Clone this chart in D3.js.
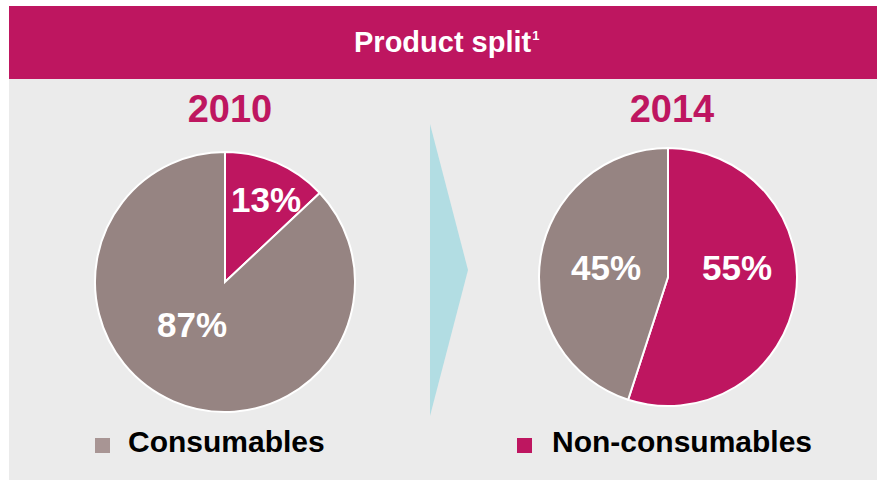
<!DOCTYPE html>
<html>
<head>
<meta charset="utf-8">
<script src="https://cdn.jsdelivr.net/npm/d3@7"></script>
<style>
  body { margin: 0; background: #fff; }
  svg { display: block; font-family: "Liberation Sans", Arial, sans-serif; }
</style>
</head>
<body>
<script>
// chart data
var years = ['2010', '2014'];
var categories = ['Non-consumables', 'Consumables'];
var values2010 = [13, 87];
var values2014 = [55, 45];
var legendLabels = ['Consumables', 'Non-consumables'];

var magenta = '#be1660';
var taupe = '#968482';

var svg = d3.select('body').append('svg')
  .attr('width', 877).attr('height', 480);

// backgrounds
svg.append('rect').attr('x', 9).attr('y', 79).attr('width', 868).attr('height', 401).attr('fill', '#ebebeb');
svg.append('rect').attr('x', 9).attr('y', 6).attr('width', 868).attr('height', 73).attr('fill', magenta);

var title = svg.append('text')
  .attr('x', 354).attr('y', 52)
  .attr('fill', '#fff').attr('font-weight', 'bold').attr('font-size', 29)
  .text('Product split');
title.append('tspan').attr('font-size', 13).attr('dx', 1).attr('dy', -12).text('1');

// arrow between the pies
svg.append('path')
  .attr('d', 'M430,124 L468,270 L430,416 Z')
  .attr('fill', '#b2dde3');

var color = d3.scaleOrdinal().domain(categories).range([magenta, taupe]);

var pies = [
  { year: years[0], values: values2010, cx: 225, cy: 282, r: 130, yearX: 230, labels: [[41, -82], [-33, 43]] },
  { year: years[1], values: values2014, cx: 668, cy: 277, r: 129, yearX: 672, labels: [[69, -9], [-62, -9]] }
];

var pie = d3.pie().sort(null).value(function(d) { return d.value; });

pies.forEach(function(p) {
  svg.append('text')
    .attr('x', p.yearX).attr('y', 122)
    .attr('text-anchor', 'middle')
    .attr('fill', magenta).attr('font-weight', 'bold').attr('font-size', 38)
    .text(p.year);

  var arc = d3.arc().innerRadius(0).outerRadius(p.r);
  var data = categories.map(function(c, i) { return { cat: c, value: p.values[i] }; });
  var g = svg.append('g').attr('transform', 'translate(' + p.cx + ',' + p.cy + ')');

  g.selectAll('path')
    .data(pie(data))
    .enter()
    .append('path')
    .attr('d', arc)
    .attr('fill', function(d) { return color(d.data.cat); })
    .attr('stroke', '#fff').attr('stroke-width', 2);

  g.selectAll('text')
    .data(pie(data))
    .enter()
    .append('text')
    .attr('x', function(d, i) { return p.labels[i][0]; })
    .attr('y', function(d, i) { return p.labels[i][1]; })
    .attr('dy', '0.35em')
    .attr('text-anchor', 'middle')
    .attr('fill', '#fff').attr('font-weight', 'bold').attr('font-size', 35)
    .text(function(d) { return d.data.value + '%'; });
});

// legend
var legend = [
  { label: legendLabels[0], fill: '#a89594', x: 95, tx: 128 },
  { label: legendLabels[1], fill: magenta, x: 517, tx: 552 }
];
legend.forEach(function(l) {
  svg.append('rect')
    .attr('x', l.x).attr('y', 438).attr('width', 15).attr('height', 15)
    .attr('fill', l.fill);
  svg.append('text')
    .attr('x', l.tx).attr('y', 452)
    .attr('font-weight', 'bold').attr('font-size', 30).attr('fill', '#000')
    .text(l.label);
});
</script>
</body>
</html>
